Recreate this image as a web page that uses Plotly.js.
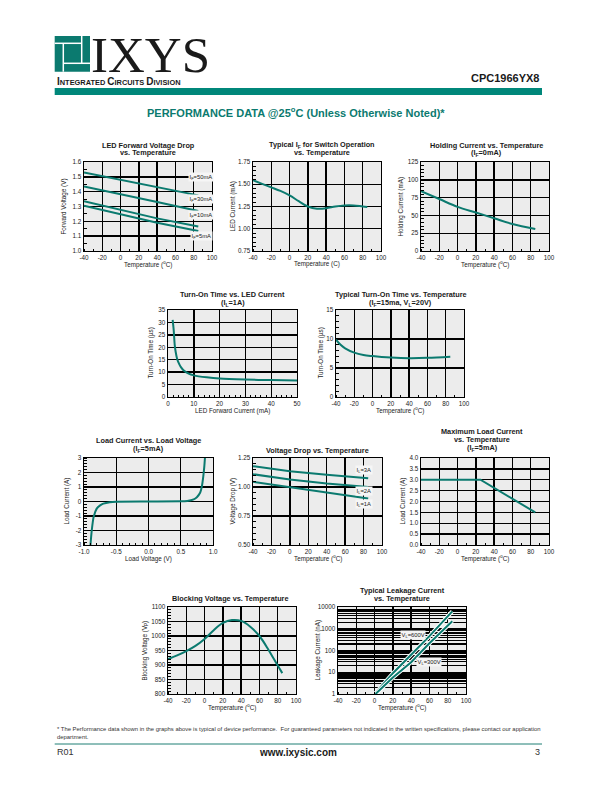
<!DOCTYPE html>
<html>
<head>
<meta charset="utf-8">
<script src="https://cdn.plot.ly/plotly-3.0.1.min.js"></script>
<style>
  html, body { margin: 0; padding: 0; background: #fff; }
  #page { width: 612px; height: 792px; }
</style>
</head>
<body>
<div id="page"></div>
<script>
const FONT = "Liberation Sans, Arial, sans-serif";
const TEAL = "#0b7a6f";
const INK = "#1a1a1a";

// tick labels (plain hyphen minus, as printed)
const tempTicks = [-40, -20, 0, 20, 40, 60, 80, 100];
const tempLabels = ["-40", "-20", "0", "20", "40", "60", "80", "100"];
const loadVTicks = [-1, -0.5, 0, 0.5, 1];
const loadVLabels = ["-1.0", "-0.5", "0.0", "0.5", "1.0"];
const loadATicks = [-3, -2, -1, 0, 1, 2, 3];
const loadALabels = ["-3", "-2", "-1", "0", "1", "2", "3"];

// LED forward voltage drop vs temperature
const vfTemp = [-40, 0, 40, 85];
const vf50mA = [1.53, 1.48, 1.43, 1.375];
const vf30mA = [1.435, 1.385, 1.33, 1.27];
const vf10mA = [1.335, 1.28, 1.22, 1.165];
const vf5mA = [1.305, 1.25, 1.19, 1.135];

// typical IF for switch operation
const ifTemp = [-40, -30, -20, -10, 0, 10, 20, 30, 40, 50, 60, 70, 80, 85];
const ifCurrent = [1.545, 1.505, 1.465, 1.425, 1.375, 1.31, 1.25, 1.225, 1.23, 1.25, 1.262, 1.262, 1.25, 1.245];

// holding current
const holdTemp = [-40, -20, 0, 20, 40, 60, 85];
const holdCurrent = [84, 73, 62, 54, 46, 38, 31];

// turn-on time vs LED current
const tonLed = [1.8, 2.2, 2.6, 3, 3.5, 4, 5, 6, 8, 10, 15, 20, 30, 40, 50];
const tonLedTime = [31, 27, 21, 18, 15.5, 14, 12, 10.8, 9.4, 8.7, 7.9, 7.4, 7.0, 6.8, 6.6];

// turn-on time vs temperature
const tonTemp = [-40, -35, -30, -20, -10, 0, 10, 20, 40, 60, 85];
const tonTempTime = [9.9, 9.0, 8.4, 7.65, 7.25, 7.05, 6.9, 6.8, 6.7, 6.75, 6.95];

// load current vs load voltage
const lvVolt = [-0.9, -0.88, -0.85, -0.8, -0.75, -0.7, -0.6, -0.5, 0, 0.5, 0.6, 0.7, 0.75, 0.8, 0.83, 0.85, 0.865, 0.875];
const lvAmp = [-3, -2, -1.05, -0.47, -0.27, -0.15, -0.05, -0.01, 0, 0.01, 0.04, 0.15, 0.3, 0.6, 1.1, 1.75, 2.4, 3];

// voltage drop vs temperature
const vdTemp = [-40, 0, 40, 85];
const vd3A = [1.18, 1.135, 1.105, 1.075];
const vd2A = [1.11, 1.065, 1.03, 1.0];
const vd1A = [1.045, 1.0, 0.95, 0.9];

// maximum load current
const maxTemp = [-40, 25, 85];
const maxCurrent = [3.0, 3.0, 1.5];

// blocking voltage
const bvTemp = [-40, -30, -20, -10, 0, 10, 20, 30, 40, 50, 60, 70, 80, 85];
const bvVolt = [920, 933, 948, 966, 990, 1020, 1045, 1055, 1052, 1032, 1000, 952, 898, 872];

// leakage current
const lk600Temp = [0, 20, 40, 60, 85];
const lk600 = [1, 9, 64, 460, 6300];
const lk300Temp = [1, 20, 40, 60, 85];
const lk300 = [1, 5.7, 29, 215, 2200];

const W = 612, H = 792;
const px = (x) => x / W;
const py = (y) => 1 - y / H;

const layout = {
  width: W, height: H,
  margin: { l: 0, r: 0, t: 0, b: 0 },
  paper_bgcolor: "#fff",
  plot_bgcolor: "#ececec",
  showlegend: false,
  font: { family: FONT, color: INK },
  annotations: [],
  shapes: []
};
const traces = [];

function text(t, x, y, o = {}) {
  const font = Object.assign({ family: FONT, size: 6.3, color: INK }, o.font);
  layout.annotations.push(Object.assign({
    text: t, xref: "paper", yref: "paper", x: px(x), y: py(y),
    showarrow: false, xanchor: "center", yanchor: "middle"
  }, o, { font }));
}

function axis(extra, o) {
  return Object.assign({
    showline: true, mirror: true, linecolor: "#000", linewidth: 1.4,
    showgrid: true, gridcolor: "#000", gridwidth: 1.4, zeroline: false,
    ticks: "", tickfont: { family: FONT, size: 6.3, color: INK },
    fixedrange: true
  }, extra, o);
}

const minor = (d) => ({ dtick: d, ticks: "inside", ticklen: 2.5, tickcolor: "#000", tickwidth: 1, showgrid: false });
const tempAxis = { range: [-40, 100], tickmode: "array", tickvals: tempTicks, ticktext: tempLabels, minor: minor(10) };

function panel(i, box, o) {
  const s = i === 1 ? "" : String(i);
  layout["xaxis" + s] = axis({ domain: [px(box.l), px(box.r)], anchor: "y" + s }, o.x);
  layout["yaxis" + s] = axis({ domain: [py(box.b), py(box.t)], anchor: "x" + s }, o.y);
  const cx = (box.l + box.r) / 2, cy = (box.t + box.b) / 2;
  o.title.forEach((t, k) => text(t, o.titleX, o.titleY[k], { font: { size: 7.3, weight: 700 } }));
  text(o.xTitle, cx, box.b + 13.5);
  text(o.yTitle, o.yTitleX, cy, { textangle: -90 });
}

function line(i, x, y, extra) {
  const s = i === 1 ? "" : String(i);
  traces.push(Object.assign({
    x, y, xaxis: "x" + s, yaxis: "y" + s, mode: "lines",
    line: { color: TEAL, width: 2 }, hoverinfo: "skip"
  }, extra));
}

function tag(i, t, x, y, bg) {
  const s = i === 1 ? "" : String(i);
  layout.annotations.push({
    text: t, xref: "x" + s, yref: "y" + s, x, y, showarrow: false,
    bgcolor: bg || "#f6f6f6", borderpad: 0.5,
    font: { family: FONT, size: 5.8, color: INK }
  });
}

const TEMP = "Temperature (<sup>o</sup>C)";

// row 1
panel(1, { l: 84, r: 212, t: 162, b: 251 }, {
  x: tempAxis, y: { range: [1.0, 1.6], dtick: 0.1, tickformat: ".1f", minor: minor(0.05) },
  title: ["LED Forward Voltage Drop", "vs. Temperature"], titleX: 148, titleY: [145, 153],
  xTitle: TEMP, yTitle: "Forward Voltage (V)", yTitleX: 63
});
line(1, vfTemp, vf50mA); line(1, vfTemp, vf30mA); line(1, vfTemp, vf10mA); line(1, vfTemp, vf5mA);
tag(1, "I<sub>F</sub>=50mA", 88, 1.5); tag(1, "I<sub>F</sub>=30mA", 88, 1.35);
tag(1, "I<sub>F</sub>=10mA", 88, 1.24); tag(1, "I<sub>F</sub>=5mA", 88, 1.1);

panel(2, { l: 253, r: 381, t: 162, b: 251 }, {
  x: tempAxis, y: { range: [0.75, 1.75], dtick: 0.25, tickformat: ".2f", minor: minor(0.05) },
  title: ["Typical I<sub>F</sub> for Switch Operation", "vs. Temperature"], titleX: 322, titleY: [145, 153],
  xTitle: "Temperature (C)", yTitle: "LED Current (mA)", yTitleX: 232
});
line(2, ifTemp, ifCurrent, { line: { color: TEAL, width: 2, shape: "spline" } });

panel(3, { l: 421, r: 549, t: 162, b: 251 }, {
  x: tempAxis, y: { range: [0, 125], dtick: 25, minor: minor(5) },
  title: ["Holding Current vs. Temperature", "(I<sub>F</sub>=0mA)"], titleX: 486, titleY: [145, 153],
  xTitle: TEMP, yTitle: "Holding Current (mA)", yTitleX: 400
});
line(3, holdTemp, holdCurrent, { line: { color: TEAL, width: 2, shape: "spline" } });

// row 2
panel(4, { l: 168, r: 297, t: 310, b: 397 }, {
  x: { range: [0, 50], dtick: 10, minor: minor(2) }, y: { range: [0, 35], dtick: 5 },
  title: ["Turn-On Time vs. LED Current", "(I<sub>L</sub>=1A)"], titleX: 232.5, titleY: [294, 302.5],
  xTitle: "LED Forward Current (mA)", yTitle: "Turn-On Time (µs)", yTitleX: 150
});
line(4, tonLed, tonLedTime, { line: { color: TEAL, width: 2, shape: "spline", smoothing: 0.8 } });

panel(5, { l: 336, r: 464, t: 310, b: 397 }, {
  x: tempAxis, y: { range: [0, 15], dtick: 5, minor: minor(1) },
  title: ["Typical Turn-On Time vs. Temperature", "(I<sub>F</sub>=15ma, V<sub>L</sub>=20V)"], titleX: 400.5, titleY: [294, 302.5],
  xTitle: TEMP, yTitle: "Turn-On Time (µs)", yTitleX: 320
});
line(5, tonTemp, tonTempTime, { line: { color: TEAL, width: 2, shape: "spline" } });

// row 3
panel(6, { l: 84, r: 213, t: 458, b: 545 }, {
  x: { range: [-1, 1], tickmode: "array", tickvals: loadVTicks, ticktext: loadVLabels, minor: minor(0.1) },
  y: { range: [-3, 3], tickmode: "array", tickvals: loadATicks, ticktext: loadALabels, minor: minor(0.2) },
  title: ["Load Current vs. Load Voltage", "(I<sub>F</sub>=5mA)"], titleX: 148, titleY: [440, 448.5],
  xTitle: "Load Voltage (V)", yTitle: "Load Current (A)", yTitleX: 66
});
line(6, lvVolt, lvAmp, { line: { color: TEAL, width: 2, shape: "spline", smoothing: 0.6 } });

panel(7, { l: 253, r: 382, t: 458, b: 545 }, {
  x: tempAxis, y: { range: [0.5, 1.25], dtick: 0.25, tickformat: ".2f", minor: minor(0.05) },
  title: ["Voltage Drop vs. Temperature"], titleX: 317, titleY: [450.5],
  xTitle: TEMP, yTitle: "Voltage Drop (V)", yTitleX: 232
});
line(7, vdTemp, vd3A); line(7, vdTemp, vd2A); line(7, vdTemp, vd1A);
tag(7, "I<sub>L</sub>=3A", 80, 1.147); tag(7, "I<sub>L</sub>=2A", 80, 0.968); tag(7, "I<sub>L</sub>=1A", 80, 0.85);

panel(8, { l: 421, r: 549, t: 458, b: 545 }, {
  x: tempAxis, y: { range: [0, 4], dtick: 0.5, tickformat: ".1f" },
  title: ["Maximum Load Current", "vs. Temperature", "(I<sub>F</sub>=5mA)"], titleX: 482, titleY: [431, 439.5, 448],
  xTitle: TEMP, yTitle: "Load Current (A)", yTitleX: 402
});
line(8, maxTemp, maxCurrent);

// row 4
panel(9, { l: 168, r: 296, t: 607, b: 694 }, {
  x: tempAxis, y: { range: [800, 1100], dtick: 50, minor: minor(10) },
  title: ["Blocking Voltage vs. Temperature"], titleX: 230, titleY: [598],
  xTitle: TEMP, yTitle: "Blocking Voltage (V<sub>P</sub>)", yTitleX: 144
});
line(9, bvTemp, bvVolt, { line: { color: TEAL, width: 2, shape: "spline" } });

panel(10, { l: 338, r: 466, t: 607, b: 694 }, {
  x: tempAxis,
  y: { type: "log", range: [0, 4], dtick: 1, tickformat: "d",
       minor: { dtick: "D1", showgrid: true, gridcolor: "#000", gridwidth: 1.2, ticks: "" } },
  title: ["Typical Leakage Current", "vs. Temperature"], titleX: 402, titleY: [590, 598.5],
  xTitle: TEMP, yTitle: "Leakage Current (nA)", yTitleX: 317
});
line(10, lk600Temp, lk600, { line: { color: "#fff", width: 4 } });
line(10, lk600Temp, lk600);
line(10, lk300Temp, lk300, { line: { color: "#fff", width: 4 } });
line(10, lk300Temp, lk300);
tag(10, "V<sub>L</sub>=600V", 42, Math.log10(490), "#f4f4f4");
tag(10, "V<sub>L</sub>=300V", 60, Math.log10(29), "#f4f4f4");

// header
const rect = (x0, y0, x1, y1, color) => layout.shapes.push({
  type: "rect", xref: "paper", yref: "paper", x0: px(x0), x1: px(x1), y0: py(y1), y1: py(y0),
  fillcolor: color, line: { width: 0 }
});
const seg = (x0, y0, x1, y1, color, w) => layout.shapes.push({
  type: "line", xref: "paper", yref: "paper", x0: px(x0), x1: px(x1), y0: py(y0), y1: py(y1),
  line: { color, width: w }
});
rect(54.7, 36, 90, 71.7, TEAL);
seg(63.3, 43.3, 63.3, 71.7, "#fff", 1.5);
seg(63.3, 63.3, 90, 63.3, "#fff", 1.5);
seg(81.7, 36, 81.7, 63.3, "#fff", 1.5);
seg(54.7, 43.3, 81.7, 43.3, "#fff", 1.5);
text("IXYS", 150, 55, { font: { family: "Liberation Serif, Times New Roman, serif", size: 51, color: INK } });
const sc = (w) => '<span style="font-size:10px">' + w[0] + "</span>" + w.slice(1);
text(["INTEGRATED", "CIRCUITS", "DIVISION"].map(sc).join(" "), 55, 81,
  { xanchor: "left", font: { size: 7.4, weight: 700 } });
text("CPC1966YX8", 542, 78, { xanchor: "right", font: { size: 11, weight: 700 } });
rect(54.7, 88, 542, 95, "#00877a");
text("PERFORMANCE DATA @25<sup>o</sup>C (Unless Otherwise Noted)*", 296, 111.5,
  { font: { size: 11, weight: 700, color: TEAL } });

// footer
text("* The Performance data shown in the graphs above is typical of device performance.  For guaranteed parameters not indicated in the written specifications, please contact our application",
  55, 729, { xanchor: "left", font: { size: 5.9, color: "#333" } });
text("department.", 55, 736.5, { xanchor: "left", font: { size: 5.9, color: "#333" } });
seg(54.7, 744, 542, 744, "#1f7f74", 1);
text("R01", 55, 752, { xanchor: "left", font: { size: 9, color: "#333" } });
text("www.ixysic.com", 298, 752, { font: { size: 10, weight: 700 } });
text("3", 542, 752, { xanchor: "right", font: { size: 9, color: "#333" } });

Plotly.newPlot("page", traces, layout, { displayModeBar: false, staticPlot: true });
</script>
</body>
</html>
